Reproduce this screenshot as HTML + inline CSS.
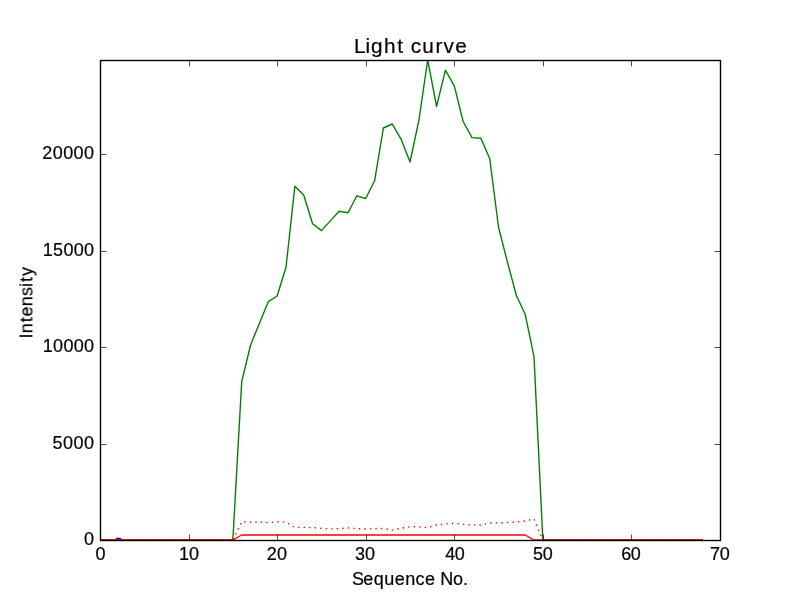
<!DOCTYPE html>
<html><head><meta charset="utf-8"><title>Light curve</title>
<style>
html,body{margin:0;padding:0;background:#fff;}
svg{display:block;}
text{font-family:"Liberation Sans",sans-serif;fill:#000;}
</style></head>
<body>
<svg width="800" height="600" viewBox="0 0 800 600">
<defs><clipPath id="ax"><rect x="100" y="60" width="620" height="480"/></clipPath></defs>
<rect x="0" y="0" width="800" height="600" fill="#fff"/>
<g fill="none" stroke-width="1.389" stroke-linejoin="round" clip-path="url(#ax)">
<line x1="116.4" y1="538.55" x2="120.4" y2="538.55" stroke="#0000ff" stroke-linecap="round"/>
<polyline points="100.00,540.00 108.86,540.00 117.71,540.00 126.57,540.00 135.43,540.00 144.29,540.00 153.14,540.00 162.00,540.00 170.86,540.00 179.71,540.00 188.57,540.00 197.43,540.00 206.29,540.00 215.14,540.00 224.00,540.00 232.86,540.00 241.71,381.70 250.57,345.00 259.43,323.30 268.29,301.70 277.14,296.00 286.00,267.20 294.86,186.30 303.71,195.00 312.57,223.80 321.43,230.60 330.29,220.90 339.14,211.30 348.00,212.80 356.86,195.80 365.71,198.50 374.57,180.80 383.43,128.00 392.29,124.00 401.14,139.30 410.00,162.00 418.86,120.50 427.71,60.00 436.57,106.40 445.43,70.20 454.29,85.90 463.14,121.50 472.00,137.60 480.86,138.30 489.71,158.50 498.57,227.50 507.43,262.00 516.29,295.30 525.14,314.20 534.00,356.70 542.86,540.00 551.71,540.00 560.57,540.00 569.43,540.00 578.29,540.00 587.14,540.00 596.00,540.00 604.86,540.00 613.71,540.00 622.57,540.00 631.43,540.00 640.29,540.00 649.14,540.00 658.00,540.00 666.86,540.00 675.71,540.00 684.57,540.00 693.43,540.00 702.29,540.00" stroke="#008000" stroke-linecap="square"/>
<polyline points="100.00,540.00 108.86,540.00 117.71,540.00 126.57,540.00 135.43,540.00 144.29,540.00 153.14,540.00 162.00,540.00 170.86,540.00 179.71,540.00 188.57,540.00 197.43,540.00 206.29,540.00 215.14,540.00 224.00,540.00 232.86,540.00 241.71,535.00 250.57,535.00 259.43,535.00 268.29,535.00 277.14,535.00 286.00,535.00 294.86,535.00 303.71,535.00 312.57,535.00 321.43,535.00 330.29,535.00 339.14,535.00 348.00,535.00 356.86,535.00 365.71,535.00 374.57,535.00 383.43,535.00 392.29,535.00 401.14,535.00 410.00,535.00 418.86,535.00 427.71,535.00 436.57,535.00 445.43,535.00 454.29,535.00 463.14,535.00 472.00,535.00 480.86,535.00 489.71,535.00 498.57,535.00 507.43,535.00 516.29,535.00 525.14,535.00 534.00,540.00 542.86,540.00 551.71,540.00 560.57,540.00 569.43,540.00 578.29,540.00 587.14,540.00 596.00,540.00 604.86,540.00 613.71,540.00 622.57,540.00 631.43,540.00 640.29,540.00 649.14,540.00 658.00,540.00 666.86,540.00 675.71,540.00 684.57,540.00 693.43,540.00 702.29,540.00" stroke="#ff0000" stroke-linecap="square"/>
<polyline points="100.00,540.00 108.86,540.00 117.71,540.00 126.57,540.00 135.43,540.00 144.29,540.00 153.14,540.00 162.00,540.00 170.86,540.00 179.71,540.00 188.57,540.00 197.43,540.00 206.29,540.00 215.14,540.00 224.00,540.00 232.86,540.00 241.71,521.80 250.57,522.20 259.43,522.00 268.29,522.60 277.14,521.70 286.00,522.30 294.86,527.40 303.71,527.40 312.57,527.60 321.43,528.40 330.29,528.90 339.14,528.70 348.00,527.90 356.86,528.60 365.71,529.00 374.57,528.70 383.43,528.40 392.29,530.10 401.14,528.20 410.00,526.80 418.86,526.80 427.71,527.60 436.57,525.00 445.43,524.00 454.29,523.20 463.14,524.40 472.00,524.80 480.86,525.10 489.71,523.00 498.57,522.90 507.43,522.50 516.29,522.10 525.14,521.00 534.00,519.00 542.86,540.00 551.71,540.00 560.57,540.00 569.43,540.00 578.29,540.00 587.14,540.00 596.00,540.00 604.86,540.00 613.71,540.00 622.57,540.00 631.43,540.00 640.29,540.00 649.14,540.00 658.00,540.00 666.86,540.00 675.71,540.00 684.57,540.00 693.43,540.00 702.29,540.00" stroke="#ff0000" stroke-dasharray="1.3834 4.1503" stroke-dashoffset="-0.650" stroke-linecap="butt"/>
</g>
<g stroke="#000" stroke-width="0.694" fill="none">
<line x1="100.5" y1="540.5" x2="100.5" y2="534.50"/>
<line x1="100.5" y1="60.5" x2="100.5" y2="66.50"/>
<line x1="189.5" y1="540.5" x2="189.5" y2="534.50"/>
<line x1="189.5" y1="60.5" x2="189.5" y2="66.50"/>
<line x1="277.5" y1="540.5" x2="277.5" y2="534.50"/>
<line x1="277.5" y1="60.5" x2="277.5" y2="66.50"/>
<line x1="366.5" y1="540.5" x2="366.5" y2="534.50"/>
<line x1="366.5" y1="60.5" x2="366.5" y2="66.50"/>
<line x1="454.5" y1="540.5" x2="454.5" y2="534.50"/>
<line x1="454.5" y1="60.5" x2="454.5" y2="66.50"/>
<line x1="543.5" y1="540.5" x2="543.5" y2="534.50"/>
<line x1="543.5" y1="60.5" x2="543.5" y2="66.50"/>
<line x1="631.5" y1="540.5" x2="631.5" y2="534.50"/>
<line x1="631.5" y1="60.5" x2="631.5" y2="66.50"/>
<line x1="720.5" y1="540.5" x2="720.5" y2="534.50"/>
<line x1="720.5" y1="60.5" x2="720.5" y2="66.50"/>
<line x1="100.5" y1="540.5" x2="106.50" y2="540.5"/>
<line x1="720.5" y1="540.5" x2="714.50" y2="540.5"/>
<line x1="100.5" y1="444.5" x2="106.50" y2="444.5"/>
<line x1="720.5" y1="444.5" x2="714.50" y2="444.5"/>
<line x1="100.5" y1="347.5" x2="106.50" y2="347.5"/>
<line x1="720.5" y1="347.5" x2="714.50" y2="347.5"/>
<line x1="100.5" y1="251.5" x2="106.50" y2="251.5"/>
<line x1="720.5" y1="251.5" x2="714.50" y2="251.5"/>
<line x1="100.5" y1="154.5" x2="106.50" y2="154.5"/>
<line x1="720.5" y1="154.5" x2="714.50" y2="154.5"/>
</g>
<rect x="100.5" y="60.5" width="620" height="480" fill="none" stroke="#000" stroke-width="1.389" stroke-linejoin="miter"/>
<g style="filter:grayscale(1)" stroke="#000" stroke-width="0.2">
<text x="95.44" y="560.00" font-size="18">0</text>
<text x="178.97 188.90" y="560.00" font-size="18">10</text>
<text x="266.75 277.05" y="560.00" font-size="18">20</text>
<text x="355.05 365.05" y="560.00" font-size="18">30</text>
<text x="445.23 454.80" y="560.00" font-size="18">40</text>
<text x="533.04 542.70" y="560.00" font-size="18">50</text>
<text x="621.23 630.80" y="560.00" font-size="18">60</text>
<text x="709.99 719.80" y="560.00" font-size="18">70</text>
<text x="84.07" y="544.90" font-size="18">0</text>
<text x="52.59 63.07 73.48 83.90" y="448.90" font-size="18">5000</text>
<text x="42.67 53.07 63.38 73.69 84.00" y="351.90" font-size="18">10000</text>
<text x="42.67 53.01 63.38 73.69 84.00" y="255.90" font-size="18">15000</text>
<text x="42.15 52.75 63.13 73.51 83.90" y="158.90" font-size="18">20000</text>
<text x="353.94 365.44 371.06 384.03 397.23 401.25 410.69 422.27 435.60 443.61 455.27" y="52.70" font-size="20.8">Light curve</text>
<text x="351.93 363.33 373.66 384.34 394.87 405.32 415.50 424.98 432.60 440.18 453.06 463.04" y="584.50" font-size="18">Sequence No.</text>
<text transform="translate(32.44,0) rotate(-90)" x="-338.43 -333.24 -322.35 -316.47 -306.16 -296.05 -287.07 -282.10 -275.94" y="0" font-size="18">Intensity</text>
</g>
</svg>
</body></html>
